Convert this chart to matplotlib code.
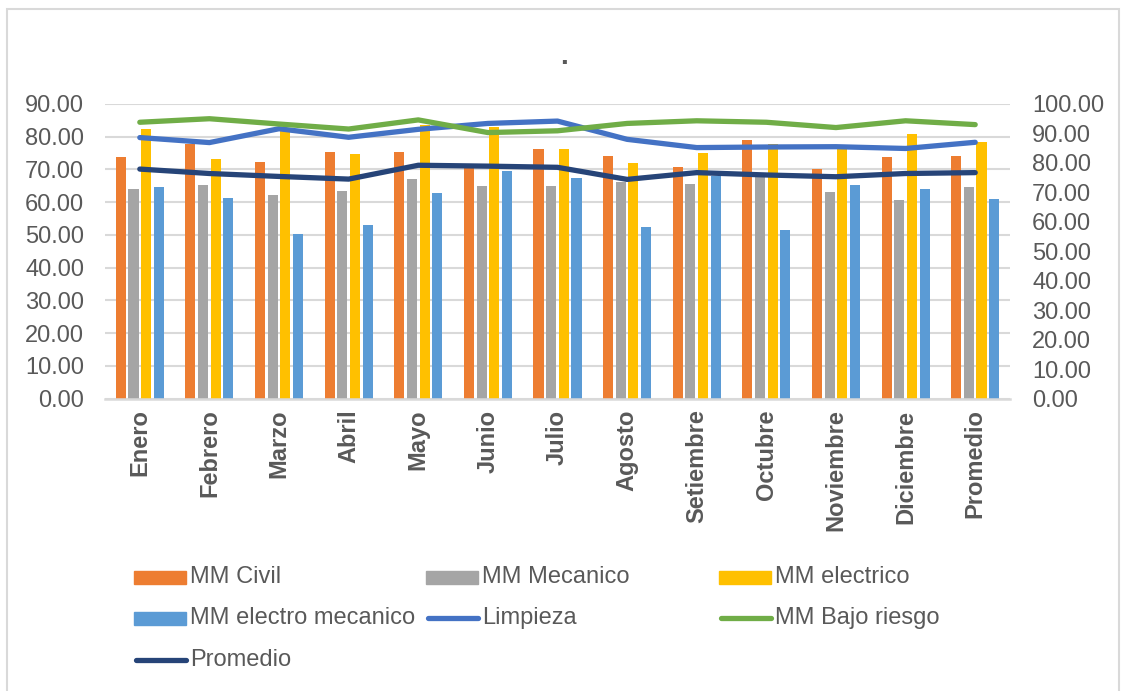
import matplotlib
matplotlib.use("Agg")
import matplotlib.pyplot as plt
import numpy as np
from matplotlib.patches import Rectangle
from matplotlib.lines import Line2D

plt.rcParams['font.family'] = ['Liberation Sans', 'DejaVu Sans']

categories = ["Enero", "Febrero", "Marzo", "Abril", "Mayo", "Junio", "Julio",
              "Agosto", "Setiembre", "Octubre", "Noviembre", "Diciembre", "Promedio"]

# Bar series (left axis)
mm_civil = [73.9, 77.7, 72.2, 75.3, 75.3, 71.0, 76.1, 74.0, 70.8, 79.1, 70.1, 73.8, 74.1]
mm_mecanico = [64.0, 65.2, 62.1, 63.5, 67.1, 64.9, 64.8, 66.2, 65.6, 68.5, 63.1, 60.7, 64.6]
mm_electrico = [82.4, 73.1, 82.5, 74.7, 83.6, 83.1, 76.4, 72.1, 75.1, 77.7, 77.0, 80.8, 78.4]
mm_electro_mecanico = [64.5, 61.4, 50.4, 53.0, 62.7, 69.6, 67.3, 52.4, 68.0, 51.5, 65.2, 63.9, 61.0]

# Line series (right axis)
limpieza = [88.6, 86.9, 91.6, 88.7, 91.4, 93.4, 94.2, 88.0, 85.2, 85.4, 85.5, 84.9, 87.0]
mm_bajo_riesgo = [93.8, 95.0, 93.2, 91.5, 94.6, 90.3, 90.9, 93.4, 94.3, 93.8, 92.0, 94.3, 93.0]
promedio = [77.9, 76.4, 75.4, 74.5, 79.2, 78.9, 78.5, 74.4, 76.7, 75.9, 75.3, 76.4, 76.7]

left_ticks = np.arange(0, 91, 10)
right_ticks = np.arange(0, 101, 10)

C_CIVIL = "#ED7D31"
C_MEC = "#A5A5A5"
C_ELEC = "#FFC000"
C_EM = "#5B9BD5"
C_LIMP = "#4472C4"
C_BAJO = "#70AD47"
C_PROM = "#264478"
TXT = "#595959"
GRID = "#D9D9D9"

W, H = 1123, 691
fig = plt.figure(figsize=(W / 100, H / 100), dpi=100)

# Outer chart border
fig.patches.append(Rectangle((7 / W, -0.05), (1119 - 7) / W, 1 - 9 / H + 0.05,
                             transform=fig.transFigure, fill=False,
                             edgecolor=GRID, linewidth=1.5))

ax = fig.add_axes([105 / W, 1 - 398.5 / H, 905 / W, 294.5 / H])
x = np.arange(len(categories))
slot = 0.182
bw = 0.145
series = [(mm_civil, C_CIVIL), (mm_mecanico, C_MEC),
          (mm_electrico, C_ELEC), (mm_electro_mecanico, C_EM)]
for i, (vals, col) in enumerate(series):
    ax.bar(x + (i - 1.5) * slot, vals, width=bw, color=col, zorder=2)

ax.set_xlim(-0.5, len(categories) - 0.5)
ax.set_ylim(0, 90)
ax.set_yticks(left_ticks)
ax.set_yticklabels([f"{v:.2f}" for v in left_ticks])
ax.set_xticks(x)
ax.set_xticklabels(categories, rotation=90, fontweight='bold')
ax.grid(axis='y', color=GRID, linewidth=1.5)
ax.set_axisbelow(True)
for s in ['top', 'left', 'right']:
    ax.spines[s].set_visible(False)
ax.spines['bottom'].set_color(GRID)
ax.spines['bottom'].set_linewidth(1.8)
ax.tick_params(axis='both', length=0, labelsize=17, colors=TXT)
ax.tick_params(axis='y', pad=15)
ax.tick_params(axis='x', pad=8)

ax2 = ax.twinx()
for vals, col in [(limpieza, C_LIMP), (mm_bajo_riesgo, C_BAJO), (promedio, C_PROM)]:
    ax2.plot(x, vals, color=col, linewidth=3.8, solid_capstyle='round',
             solid_joinstyle='round', zorder=3)
ax2.set_ylim(0, 100)
ax2.set_yticks(right_ticks)
ax2.set_yticklabels([f"{v:.2f}" for v in right_ticks])
for s in ax2.spines.values():
    s.set_visible(False)
ax2.tick_params(axis='y', length=0, labelsize=17, colors=TXT, pad=16)

# Title
fig.text(564 / W, 1 - 64 / H, ".", ha='center', va='baseline',
         fontsize=20, fontweight='bold', color=TXT)

# Legend entries laid out in three columns
legend_items = [
    ("MM Civil", "bar", C_CIVIL), ("MM Mecanico", "bar", C_MEC), ("MM electrico", "bar", C_ELEC),
    ("MM electro mecanico", "bar", C_EM), ("Limpieza", "line", C_LIMP), ("MM Bajo riesgo", "line", C_BAJO),
    ("Promedio", "line", C_PROM),
]
col_x = [134, 426, 719]
row_y = [577, 618, 660]
for k, (label, kind, col) in enumerate(legend_items):
    px = col_x[k % 3]
    py = row_y[k // 3]
    if kind == "bar":
        fig.patches.append(Rectangle((px / W, 1 - (py + 6.5) / H), 52 / W, 13 / H,
                                     transform=fig.transFigure, color=col))
    else:
        fig.lines.append(Line2D([(px + 2) / W, (px + 52) / W], [1 - py / H, 1 - py / H],
                                transform=fig.transFigure, color=col, linewidth=3.8,
                                solid_capstyle='round'))
    fig.text((px + 56) / W, 1 - py / H, label, ha='left', va='center',
             fontsize=17, color=TXT)

fig.savefig("out.png", dpi=100)
